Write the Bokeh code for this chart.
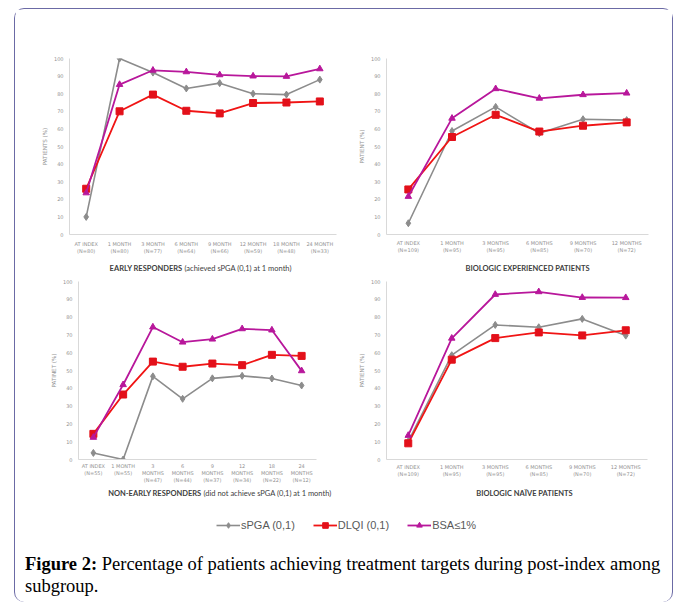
from bokeh.plotting import figure
from bokeh.models import ColumnDataSource, FactorRange, Range1d, Legend, LegendItem, Div, Label
from bokeh.layouts import row, column
from bokeh.embed import file_html
from bokeh.resources import INLINE

y_ticks = [0, 10, 20, 30, 40, 50, 60, 70, 80, 90, 100]

# Early responders
er_cats = ["AT INDEX\n(N=80)", "1 MONTH\n(N=80)", "3 MONTH\n(N=77)", "6 MONTH\n(N=64)",
           "9 MONTH\n(N=66)", "12 MONTH\n(N=59)", "18 MONTH\n(N=48)", "24 MONTH\n(N=33)"]
er_spga = [10, 100, 92, 83, 86, 80, 79.5, 88]
er_dlqi = [26, 70, 79.5, 70.3, 68.8, 74.7, 75, 75.6]
er_bsa = [23.6, 85.2, 93.3, 92.4, 90.7, 90, 89.8, 94.1]

# Biologic experienced
be_cats = ["AT INDEX\n(N=109)", "1 MONTH\n(N=95)", "3 MONTHS\n(N=95)", "6 MONTHS\n(N=85)",
           "9 MONTHS\n(N=70)", "12 MONTHS\n(N=72)"]
be_spga = [6.4, 58.8, 72.5, 57.5, 65.5, 65]
be_dlqi = [25.6, 55.4, 68, 58.5, 61.8, 63.7]
be_bsa = [21.6, 66, 82.8, 77.4, 79.4, 80.3]

# Non-early responders
ner_cats = ["AT INDEX\n(N=55)", "1 MONTH\n(N=55)", "3\nMONTHS\n(N=47)", "6\nMONTHS\n(N=44)",
            "9\nMONTHS\n(N=37)", "12\nMONTHS\n(N=34)", "18\nMONTHS\n(N=22)", "24\nMONTHS\n(N=12)"]
ner_spga = [3.7, 0, 46.7, 34.1, 45.6, 47, 45.5, 41.6]
ner_dlqi = [14.4, 36.5, 55, 52.1, 53.9, 53, 58.8, 58.2]
ner_bsa = [12.4, 42, 74.4, 65.9, 67.6, 73.4, 72.7, 49.8]

# Biologic naive
bn_cats = ["AT INDEX\n(N=109)", "1 MONTH\n(N=95)", "3 MONTHS\n(N=95)", "6 MONTHS\n(N=85)",
           "9 MONTHS\n(N=70)", "12 MONTHS\n(N=72)"]
bn_spga = [10.2, 58.6, 75.6, 74.3, 79, 69.6]
bn_dlqi = [9.1, 56.1, 68.2, 71.4, 69.7, 72.6]
bn_bsa = [13.5, 68.1, 92.7, 94.2, 91, 90.9]

series_names = ["sPGA (0,1)", "DLQI (0,1)", "BSA\u22641%"]

GRAY = "#8c8c8c"
RED = "#f01414"
RED_M = "#e3101a"
MAG = "#b8179b"
TICK_C = "#939393"
TITLE_C = "#404040"


def add_series(p, src):
    r = []
    r.append(p.line("x", "s", source=src, line_color=GRAY, line_width=1.6))
    r.append(p.scatter("x", "s", source=src, marker="diamond", size=7, fill_color=GRAY, line_color=GRAY))
    r.append(p.line("x", "d", source=src, line_color=RED, line_width=1.8))
    r.append(p.scatter("x", "d", source=src, marker="square", size=7, fill_color=RED_M, line_color=RED_M))
    r.append(p.line("x", "b", source=src, line_color=MAG, line_width=1.8))
    r.append(p.scatter("x", "b", source=src, marker="triangle", size=6.5, fill_color=MAG, line_color=MAG))
    return r


def make_panel(cats, spga, dlqi, bsa, ylabel, w, h, bl, br, bt, bb, xstand):
    src = ColumnDataSource(dict(x=cats, s=spga, d=dlqi, b=bsa))
    p = figure(x_range=FactorRange(factors=cats), y_range=Range1d(0, 100),
               width=w, height=h, min_border_left=bl, min_border_right=br,
               min_border_top=bt, min_border_bottom=bb,
               output_backend="svg", toolbar_location=None)
    add_series(p, src)
    p.grid.grid_line_color = None
    p.outline_line_color = None
    p.yaxis.ticker = y_ticks
    for ax in (p.xaxis, p.yaxis):
        ax.axis_line_color = "#d9d9d9"
        ax.axis_line_width = 1
        ax.major_tick_line_color = None
        ax.minor_tick_line_color = None
        ax.major_tick_out = 0
        ax.major_tick_in = 0
        ax.major_label_text_color = TICK_C
        ax.major_label_text_font = "DejaVu Sans"
        ax.major_label_text_font_size = "5px"
    p.xaxis.major_label_standoff = xstand
    p.yaxis.major_label_standoff = 6
    p.yaxis.axis_label = ylabel
    p.yaxis.axis_label_text_font = "DejaVu Sans"
    p.yaxis.axis_label_text_font_size = "5.6px"
    p.yaxis.axis_label_text_font_style = "normal"
    p.yaxis.axis_label_text_color = TICK_C
    p.yaxis.axis_label_standoff = 3
    return p


def title_strip(width, split, bold, rest):
    t = figure(width=width, height=14, x_range=Range1d(0, width), y_range=Range1d(0, 14),
               min_border=0, x_axis_location=None, y_axis_location=None,
               output_backend="svg", toolbar_location=None)
    t.grid.grid_line_color = None
    t.outline_line_color = None
    t.add_layout(Label(x=split, y=7, text=bold, text_align="right" if rest else "center",
                       text_baseline="middle", text_font="Lato", text_font_size="7.5px",
                       text_font_style="bold", text_color=TITLE_C))
    if rest:
        t.add_layout(Label(x=split + 2, y=7, text=rest, text_align="left",
                           text_baseline="middle", text_font="Lato", text_font_size="7.5px",
                           text_color=TITLE_C))
    return t


p1 = make_panel(er_cats, er_spga, er_dlqi, er_bsa, "PATIENTS (%)", 334, 252, 54, 13, 49, 26, 6)
p2 = make_panel(be_cats, be_spga, be_dlqi, be_bsa, "PATIENT (%)", 323, 252, 37, 24, 47, 27, 5)
p3 = make_panel(ner_cats, ner_spga, ner_dlqi, ner_bsa, "PATINET (%)", 334, 211, 63, 33, 6, 27, 3)
p4 = make_panel(bn_cats, bn_spga, bn_dlqi, bn_bsa, "PATIENT (%)", 323, 211, 37, 25, 6, 25, 4)

t1 = title_strip(334, 167, "EARLY RESPONDERS", "(achieved  sPGA (0,1) at 1 month)")
t2 = title_strip(323, 178, "BIOLOGIC EXPERIENCED PATIENTS", None)
t3 = title_strip(334, 186, "NON-EARLY RESPONDERS", "(did not achieve  sPGA (0,1) at 1 month)")
t4 = title_strip(323, 175, "BIOLOGIC NA\u00cfVE PATIENTS", None)

# legend strip (series drawn off-range; only the legend is visible)
lg = figure(width=657, height=40, x_range=FactorRange(factors=er_cats), y_range=Range1d(-300, -200),
            min_border=0, x_axis_location=None, y_axis_location=None,
            output_backend="svg", toolbar_location=None)
lg.grid.grid_line_color = None
lg.outline_line_color = None
lr = add_series(lg, ColumnDataSource(dict(x=er_cats, s=er_spga, d=er_dlqi, b=er_bsa)))
legend = Legend(items=[LegendItem(label=series_names[0], renderers=[lr[0], lr[1]]),
                       LegendItem(label=series_names[1], renderers=[lr[2], lr[3]]),
                       LegendItem(label=series_names[2], renderers=[lr[4], lr[5]])],
                orientation="horizontal", location=(201, 8), padding=0, margin=0,
                spacing=18, glyph_width=24, glyph_height=14, label_height=14,
                label_standoff=1, label_text_font="Liberation Sans",
                label_text_font_size="11px", label_text_color="#595959",
                border_line_color=None, background_fill_color=None)
lg.add_layout(legend)

cap = Div(text='<b>Figure 2:</b> Percentage of patients achieving treatment targets during post-index among<br>subgroup.',
          width=655, height=62, margin=0,
          styles={"font-family": "'Liberation Serif'", "font-size": "18.5px", "line-height": "22px",
                  "color": "#000000", "padding-left": "10px", "padding-top": "13px",
                  "white-space": "nowrap"})

layout = column(row(p1, p2), row(t1, t2), row(p3, p4), row(t3, t4), lg, cap, margin=(8, 0, 0, 14),
                styles={"border": "1.5px solid #6b6aa5", "border-radius": "10px",
                        "border-bottom": "none"})

open("out.html", "w").write(file_html(layout, INLINE))
